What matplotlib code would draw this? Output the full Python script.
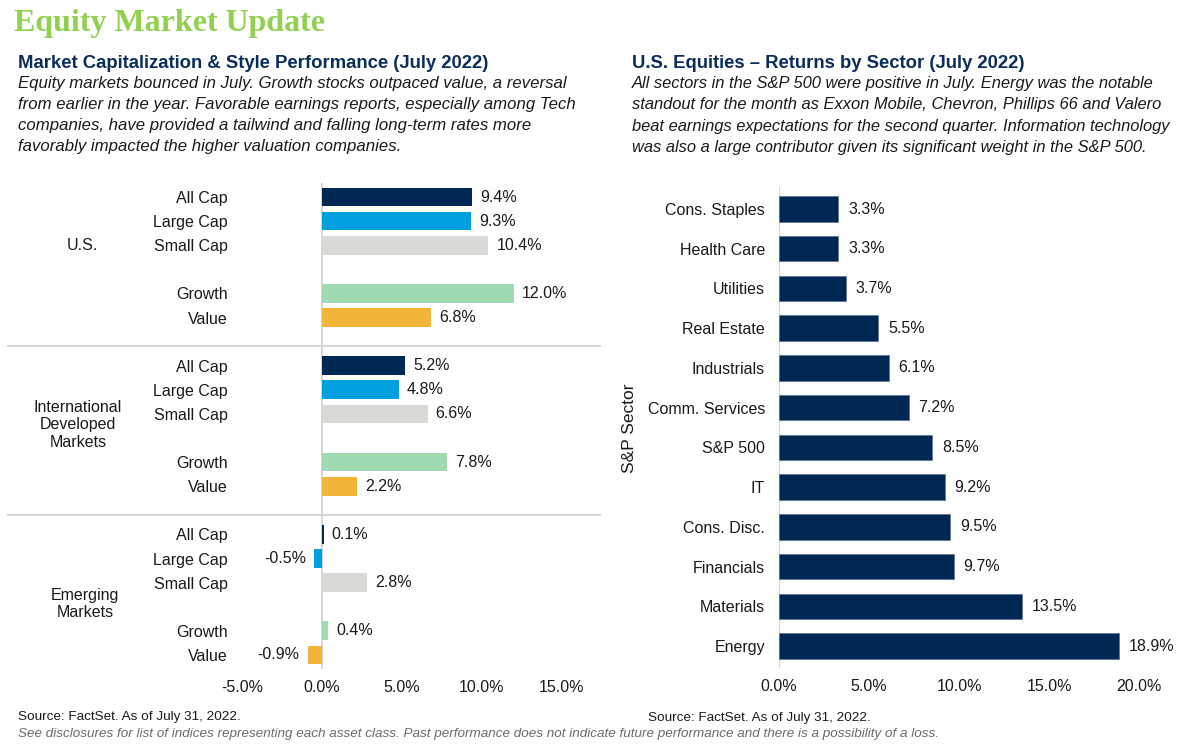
import matplotlib
matplotlib.use("Agg")
import matplotlib.pyplot as plt
from matplotlib.transforms import blended_transform_factory
from matplotlib.lines import Line2D

plt.rcParams['font.family'] = ['Liberation Sans', 'DejaVu Sans']

# ---------------- data ----------------
groups = ["U.S.", "International\nDeveloped\nMarkets", "Emerging\nMarkets"]
styles = ["All Cap", "Large Cap", "Small Cap", "Growth", "Value"]
us_vals = [9.4, 9.3, 10.4, 12.0, 6.8]
intl_vals = [5.2, 4.8, 6.6, 7.8, 2.2]
em_vals = [0.1, -0.5, 2.8, 0.4, -0.9]
style_colors = ["#002855", "#009FDF", "#D9D9D6", "#A0DAB3", "#F2B43A"]
left_ticks = [-5, 0, 5, 10, 15]

sectors = ["Cons. Staples", "Health Care", "Utilities", "Real Estate", "Industrials",
           "Comm. Services", "S&P 500", "IT", "Cons. Disc.", "Financials",
           "Materials", "Energy"]
sector_vals = [3.3, 3.3, 3.7, 5.5, 6.1, 7.2, 8.5, 9.2, 9.5, 9.7, 13.5, 18.9]
right_ticks = [0, 5, 10, 15, 20]

NAVY = "#002855"
TXT = "#1a1a1a"

W, H = 1200, 750
fig = plt.figure(figsize=(12, 7.5), dpi=100)

def fx(px):
    return px / W

def fy(py):
    return 1 - py / H

# ---------------- headers ----------------
fig.text(fx(14), fy(24), "Equity Market Update", family=['Liberation Serif', 'DejaVu Serif'],
         fontsize=23, fontweight="bold", color="#92D050", va="center", ha="left")
fig.text(fx(18), fy(63), "Market Capitalization & Style Performance (July 2022)",
         fontsize=13.3, fontweight="bold", color="#0C2D5C", va="center")
left_body = ("Equity markets bounced in July. Growth stocks outpaced value, a reversal\n"
             "from earlier in the year. Favorable earnings reports, especially among Tech\n"
             "companies, have provided a tailwind and falling long-term rates more\n"
             "favorably impacted the higher valuation companies.")
fig.text(fx(18), fy(76), left_body, fontsize=12.1, style="italic", color=TXT,
         va="top", linespacing=1.51)

fig.text(fx(632), fy(63), "U.S. Equities \u2013 Returns by Sector (July 2022)",
         fontsize=13.3, fontweight="bold", color="#0C2D5C", va="center")
right_body = ("All sectors in the S&P 500 were positive in July. Energy was the notable\n"
              "standout for the month as Exxon Mobile, Chevron, Phillips 66 and Valero\n"
              "beat earnings expectations for the second quarter. Information technology\n"
              "was also a large contributor given its significant weight in the S&P 500.")
fig.text(fx(632), fy(76), right_body, fontsize=11.9, style="italic", color=TXT,
         va="top", linespacing=1.53)

# ---------------- left chart ----------------
slot_h = 24.1
y0_px = 197
ylo, yhi = -0.6, 19.6
top_px = y0_px + ylo * slot_h
bot_px = y0_px + yhi * slot_h
axL = fig.add_axes([fx(242), fy(bot_px), fx(602) - fx(242), (bot_px - top_px) / H])

offsets = [0, 1, 2, 4, 5]
all_vals = [us_vals, intl_vals, em_vals]
ypos, vals, cols, labels = [], [], [], []
for g, gv in enumerate(all_vals):
    for i, v in enumerate(gv):
        ypos.append(g * 7 + offsets[i])
        vals.append(v)
        cols.append(style_colors[i])
        labels.append(styles[i])

axL.barh(ypos, vals, height=0.78, color=cols, zorder=3)
axL.set_ylim(yhi, ylo)
axL.set_xlim(-5, 17.5)
axL.axvline(0, color="#D0D0D0", lw=1.2, zorder=2)
for y, v in zip(ypos, vals):
    if v >= 0:
        axL.text(v + 0.5, y, f"{v:.1f}%", va="center", ha="left", fontsize=11.5, color=TXT)
    else:
        axL.text(v - 0.5, y, f"{v:.1f}%", va="center", ha="right", fontsize=11.5, color=TXT)
axL.set_yticks(ypos)
axL.set_yticklabels(labels)
axL.set_xticks(left_ticks)
axL.set_xticklabels([f"{t:.1f}%" for t in left_ticks])
axL.tick_params(axis="both", length=0, labelsize=11.5, labelcolor=TXT)
axL.tick_params(axis="y", pad=10)
axL.tick_params(axis="x", pad=8)
for s in axL.spines.values():
    s.set_visible(False)

tr = blended_transform_factory(fig.transFigure, axL.transData)
group_y = [2, 9.45, 16.9]
group_x = [82, 78, 85]
for g, lab in enumerate(groups):
    axL.text(fx(group_x[g]), group_y[g], lab, transform=tr, ha="center", va="center",
             fontsize=11.5, color=TXT, linespacing=1.2)
for sy in [6.2, 13.2]:
    ln = Line2D([fx(8), fx(600)], [sy, sy], transform=tr, color="#D6D6D6", lw=1.5)
    fig.add_artist(ln)

# ---------------- right chart ----------------
rs = 39.73
r0 = 209
rlo, rhi = -0.55, 11.55
rtop = r0 + rlo * rs
rbot = r0 + rhi * rs
ppu = 18.0
axR = fig.add_axes([fx(779), fy(rbot), 22 * ppu / W, (rbot - rtop) / H])
ry = list(range(len(sectors)))
axR.barh(ry, sector_vals, height=0.64, color=NAVY, edgecolor="#5A7090", lw=0.5, zorder=3)
axR.set_ylim(rhi, rlo)
axR.set_xlim(0, 22)
axR.axvline(0, color="#D0D0D0", lw=1.2, zorder=2)
for y, v in zip(ry, sector_vals):
    axR.text(v + 0.55, y, f"{v:.1f}%", va="center", ha="left", fontsize=11.5, color=TXT)
axR.set_yticks(ry)
axR.set_yticklabels(sectors)
axR.set_xticks(right_ticks)
axR.set_xticklabels([f"{t:.1f}%" for t in right_ticks])
axR.tick_params(axis="both", length=0, labelsize=11.5, labelcolor=TXT)
axR.tick_params(axis="y", pad=10)
axR.tick_params(axis="x", pad=8)
for s in axR.spines.values():
    s.set_visible(False)
fig.text(fx(630), fy(428), "S&P Sector", rotation=90, ha="center", va="center",
         fontsize=12.5, color=TXT)

# ---------------- footers ----------------
fig.text(fx(18), fy(717), "Source: FactSet. As of July 31, 2022.", fontsize=9.7,
         color=TXT, va="center")
fig.text(fx(648), fy(718), "Source: FactSet. As of July 31, 2022.", fontsize=9.7,
         color=TXT, va="center")
fig.text(fx(18), fy(734),
         "See disclosures for list of indices representing each asset class. Past performance "
         "does not indicate future performance and there is a possibility of a loss.",
         fontsize=9.7, style="italic", color="#6B6B6B", va="center")

fig.savefig("out.png", dpi=100, facecolor="white")
